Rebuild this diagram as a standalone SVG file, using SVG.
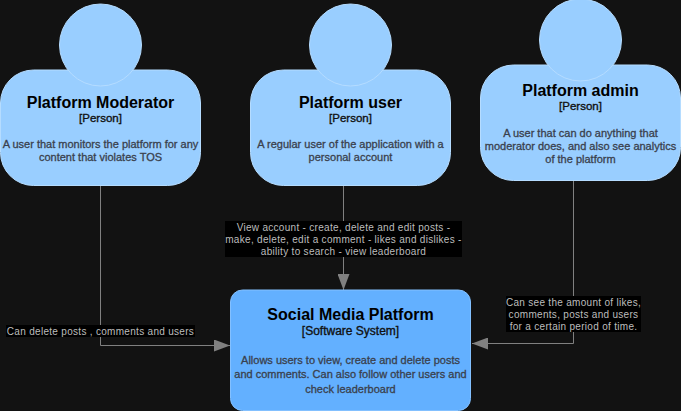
<svg xmlns="http://www.w3.org/2000/svg" width="681" height="411" viewBox="0 0 681 411">
<style>
text{font-family:"Liberation Sans",Arial,sans-serif;text-anchor:middle}
.person{fill:#99ceff;stroke:#b5dcff;stroke-width:1}
.system{fill:#63b0ff;stroke:#83c0ff;stroke-width:1}
.title{font-size:16px;font-weight:bold;fill:#000}
.tag{font-size:11.500px;fill:#111;stroke:#111;stroke-width:.35px}
.wide{font-size:12px}
.desc{font-size:11px;fill:#3a414d;stroke:#3a414d;stroke-width:.3px}
.edge{fill:none;stroke:#808080;stroke-width:1}
.lblbg{fill:#000}
.lbl{font-size:10px;fill:#bdbdbd;letter-spacing:.3px}
</style>
<defs>
<g id="p"><rect class="person" x="0.5" y="70" width="200" height="115.5" rx="33" ry="33"/><circle class="person" cx="100.5" cy="45" r="41"/></g>
<marker id="arr" markerUnits="userSpaceOnUse" markerWidth="17" markerHeight="12" refX="16" refY="6" orient="auto"><path d="M0 0L16 6L0 12Z" fill="#808080"/></marker>
</defs>
<rect width="681" height="411" fill="#121212"/>
<g id="connectors">
<path class="edge" marker-end="url(#arr)" d="M100.500 185.500V345.500H230"/>
<path class="edge" marker-end="url(#arr)" d="M343.500 185.500V290"/>
<path class="edge" marker-end="url(#arr)" d="M573.500 180.500V343.500H472"/>
</g>
<g id="edge-labels">
<rect class="lblbg" x="6" y="325" width="189" height="12"/>
<text class="lbl" x="100.500" y="334.500">Can delete posts , comments and users</text>
<rect class="lblbg" x="225" y="221" width="237" height="36"/>
<text class="lbl" x="343.500" y="230.500">View account - create, delete and edit posts -</text>
<text class="lbl" x="343.500" y="242.500">make, delete, edit a comment - likes and dislikes -</text>
<text class="lbl" x="343.500" y="254.500">ability to search - view leaderboard</text>
<rect class="lblbg" x="506" y="296" width="135" height="36"/>
<text class="lbl" x="573.500" y="305.500">Can see the amount of likes,</text>
<text class="lbl" x="573.500" y="317.500">comments, posts and users</text>
<text class="lbl" x="573.500" y="329.500">for a certain period of time.</text>
</g>
<g id="moderator">
<use href="#p"/>
<text class="title" x="100.500" y="108">Platform Moderator</text>
<text class="tag" x="100.500" y="122">[Person]</text>
<text class="desc" x="100.500" y="148">A user that monitors the platform for any</text>
<text class="desc" x="100.500" y="161">content that violates TOS</text>
</g>
<g id="user">
<use href="#p" x="250"/>
<text class="title" x="350.500" y="108">Platform user</text>
<text class="tag" x="350.500" y="122">[Person]</text>
<text class="desc" x="350.500" y="148">A regular user of the application with a</text>
<text class="desc" x="350.500" y="161">personal account</text>
</g>
<g id="admin">
<use href="#p" x="480" y="-5"/>
<text class="title" x="580.500" y="96">Platform admin</text>
<text class="tag" x="580.500" y="110">[Person]</text>
<text class="desc" x="580.500" y="137">A user that can do anything that</text>
<text class="desc" x="580.500" y="150">moderator does, and also see analytics</text>
<text class="desc" x="580.500" y="163">of the platform</text>
</g>
<g id="system">
<rect class="system" x="230.500" y="290" width="240" height="120.500" rx="12" ry="12"/>
<text class="title" x="350.500" y="320">Social Media Platform</text>
<text class="tag wide" x="350.500" y="335">[Software System]</text>
<text class="desc" x="350.500" y="364">Allows users to view, create and delete posts</text>
<text class="desc" x="350.500" y="378">and comments. Can also follow other users and</text>
<text class="desc" x="350.500" y="393">check leaderboard</text>
</g>
</svg>
